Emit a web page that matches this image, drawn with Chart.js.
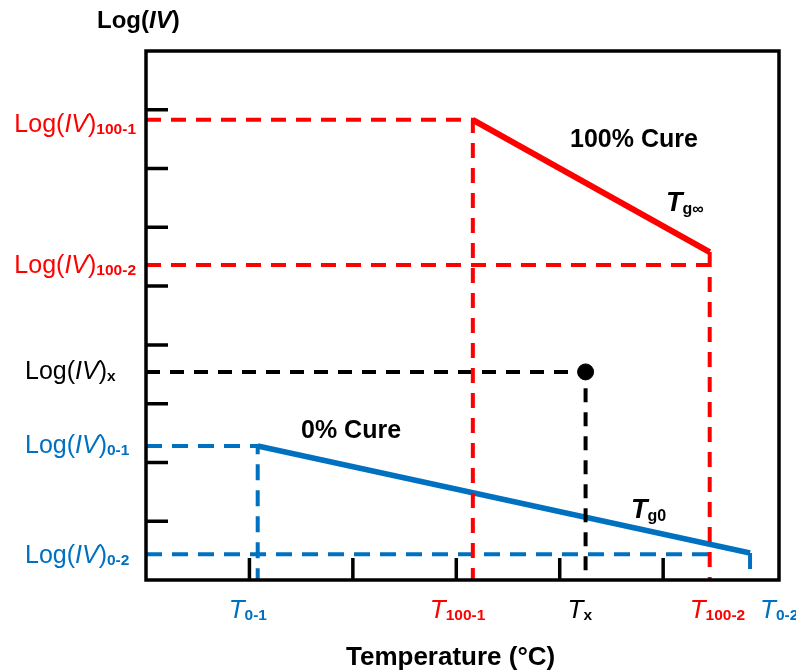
<!DOCTYPE html>
<html>
<head>
<meta charset="utf-8">
<script src="https://cdn.jsdelivr.net/npm/chart.js@4.4.0/dist/chart.umd.min.js"></script>
<style>
  body { margin: 0; background: #fff; }
  canvas { display: block; }
</style>
</head>
<body>
<canvas id="cure-chart" width="796" height="672"></canvas>
<script>
// =======================
// 1. Values
// =======================
const tempNames = ["0-1", "100-1", "x", "100-2", "0-2"];
const tempValues = [1.08, 3.16, 4.25, 5.45, 5.84];
const logNames = ["100-1", "100-2", "x", "0-1", "0-2"];
const logValues = [7.83, 5.36, 3.54, 2.28, 0.44];

const cure100X = [3.16, 5.45];
const cure100Y = [7.83, 5.58];
const cure0X = [1.08, 5.84];
const cure0Y = [2.28, 0.46];

const pointX = [4.25];
const pointY = [3.54];
const guide02End = 5.52; // blue dashed line stops short of T0-2

const xTicks = [1, 2, 3, 4, 5];
const yTicks = [1, 2, 3, 4, 5, 6, 7, 8];

const RED = "#ff0000";
const BLUE = "#0070c0";
const BLACK = "#000000";
const FONT = '"Liberation Sans", Arial, sans-serif';

const labelColors = { "100-1": RED, "100-2": RED, x: BLACK, "0-1": BLUE, "0-2": BLUE };

function toPoints(xs, ys) {
  return xs.map((x, i) => ({ x: x, y: ys[i] }));
}

function guide(points, color, dash) {
  return {
    data: points,
    showLine: true,
    borderColor: color,
    borderWidth: 4,
    borderDash: dash,
    pointRadius: 0,
    fill: false,
  };
}

// =======================
// 2. Text helpers (subscripts etc.)
// =======================
function partsWidth(ctx, parts) {
  let w = 0;
  parts.forEach((p) => {
    ctx.font = p.font;
    w += ctx.measureText(p.text).width;
  });
  return w;
}

function drawParts(ctx, parts, x, y) {
  let cx = x;
  parts.forEach((p) => {
    ctx.font = p.font;
    ctx.fillStyle = p.color;
    ctx.fillText(p.text, cx, y + (p.dy || 0));
    cx += ctx.measureText(p.text).width;
  });
}

function logLabel(sub, color) {
  return [
    { text: "Log(", font: "25px " + FONT, color: color },
    { text: "IV", font: "italic 25px " + FONT, color: color },
    { text: ")", font: "25px " + FONT, color: color },
    { text: sub, font: "bold 15.5px " + FONT, color: color, dy: 2 },
  ];
}

function tempLabel(sub, color) {
  return [
    { text: "T", font: "italic 26px " + FONT, color: color },
    { text: sub, font: "bold 15.5px " + FONT, color: color, dy: 2 },
  ];
}

// =======================
// 3. Plugin: frame, inner ticks and all texts
// =======================
const framePlugin = {
  id: "frame",
  afterDatasetsDraw(chart) {
    const ctx = chart.ctx;
    const a = chart.chartArea;
    const xs = chart.scales.x;
    const ys = chart.scales.y;
    ctx.save();
    ctx.strokeStyle = BLACK;
    ctx.lineWidth = 3.5;
    ctx.setLineDash([]);
    ctx.strokeRect(a.left, a.top, a.right - a.left, a.bottom - a.top);

    ctx.beginPath();
    yTicks.forEach((v) => {
      const py = ys.getPixelForValue(v);
      ctx.moveTo(a.left, py);
      ctx.lineTo(a.left + 22, py);
    });
    xTicks.forEach((v) => {
      const px = xs.getPixelForValue(v);
      ctx.moveTo(px, a.bottom);
      ctx.lineTo(px, a.bottom - 22);
    });
    ctx.stroke();
    ctx.restore();
  },
  afterDraw(chart) {
    const ctx = chart.ctx;
    const xs = chart.scales.x;
    const ys = chart.scales.y;
    ctx.save();
    ctx.textBaseline = "alphabetic";
    ctx.textAlign = "left";

    // y side labels
    const yShift = [4, 0, -1, -1, 1];
    logNames.forEach((name, i) => {
      const parts = logLabel(name, labelColors[name]);
      const w = partsWidth(ctx, parts);
      const left = Math.min(25, 136 - w);
      drawParts(ctx, parts, left, ys.getPixelForValue(logValues[i]) + 8 + yShift[i]);
    });

    // x side labels
    const xShift = [-29, -43, -18, -20, 10];
    tempNames.forEach((name, i) => {
      const parts = tempLabel(name, labelColors[name]);
      drawParts(ctx, parts, xs.getPixelForValue(tempValues[i]) + xShift[i], 618);
    });

    // axis titles
    drawParts(ctx, [
      { text: "Log(", font: "bold 24px " + FONT, color: BLACK },
      { text: "IV", font: "italic bold 24px " + FONT, color: BLACK },
      { text: ")", font: "bold 24px " + FONT, color: BLACK },
    ], 97, 28);
    drawParts(ctx, [{ text: "Temperature (°C)", font: "bold 26px " + FONT, color: BLACK }], 346, 665);

    // curve notes
    drawParts(ctx, [{ text: "100% Cure", font: "bold 25px " + FONT, color: BLACK }], 570, 147);
    drawParts(ctx, [{ text: "0% Cure", font: "bold 25px " + FONT, color: BLACK }], 301, 438);
    drawParts(ctx, [
      { text: "T", font: "italic bold 27px " + FONT, color: BLACK },
      { text: "g∞", font: "bold 16px " + FONT, color: BLACK, dy: 3 },
    ], 666, 211);
    drawParts(ctx, [
      { text: "T", font: "italic bold 27px " + FONT, color: BLACK },
      { text: "g0", font: "bold 16px " + FONT, color: BLACK, dy: 3 },
    ], 631, 518);
    ctx.restore();
  },
};

// =======================
// 4. Chart
// =======================
const datasets = [
  {
    data: toPoints(pointX, pointY),
    pointRadius: 8,
    pointBackgroundColor: BLACK,
    pointBorderColor: BLACK,
    showLine: false,
  },
  guide([{ x: 0, y: logValues[0] }, { x: tempValues[1], y: logValues[0] }, { x: tempValues[1], y: 0 }], RED, [15, 10]),
  guide([{ x: 0, y: logValues[1] }, { x: tempValues[3], y: logValues[1] }], RED, [15, 10]),
  guide([{ x: tempValues[3], y: cure100Y[1] }, { x: tempValues[3], y: 0 }], RED, [15, 10]),
  guide([{ x: 0, y: logValues[2] }, { x: tempValues[2], y: logValues[2] }, { x: tempValues[2], y: 0 }], BLACK, [14, 10]),
  guide([{ x: 0, y: logValues[3] }, { x: tempValues[0], y: logValues[3] }, { x: tempValues[0], y: 0 }], BLUE, [16, 10]),
  guide([{ x: 0, y: logValues[4] }, { x: guide02End, y: logValues[4] }], BLUE, [16, 10]),
  guide([{ x: tempValues[4], y: cure0Y[1] }, { x: tempValues[4], y: 0 }], BLUE, [16, 10]),
  {
    data: toPoints(cure100X, cure100Y),
    showLine: true,
    borderColor: RED,
    borderWidth: 6,
    pointRadius: 0,
  },
  {
    data: toPoints(cure0X, cure0Y),
    showLine: true,
    borderColor: BLUE,
    borderWidth: 5.5,
    pointRadius: 0,
  },
];

const chart = new Chart(document.getElementById("cure-chart").getContext("2d"), {
  type: "scatter",
  data: { datasets: datasets },
  options: {
    responsive: false,
    animation: false,
    layout: { padding: { left: 146, top: 51, right: 17, bottom: 92 } },
    plugins: { legend: { display: false }, tooltip: { enabled: false } },
    scales: {
      x: { type: "linear", min: 0, max: 6.12, display: false },
      y: { type: "linear", min: 0, max: 9, display: false },
    },
  },
  plugins: [framePlugin],
});
</script>
</body>
</html>
